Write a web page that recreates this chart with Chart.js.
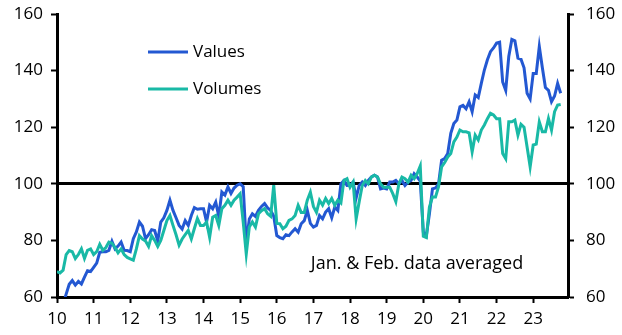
<!DOCTYPE html>
<html>
<head>
<meta charset="utf-8">
<script src="https://cdn.jsdelivr.net/npm/chart.js@4/dist/chart.umd.min.js"></script>
<style>
  html, body { margin: 0; padding: 0; background: #fff; }
  #wrap { width: 622px; height: 335px; }
</style>
</head>
<body>
<div id="wrap"><canvas id="chart"></canvas></div>
<script>
// monthly series, Jan 2010 to Oct 2023
const startYear = 2010;
const values = [
    52, 54, 57.5, 61, 64.5, 65.8, 64.2, 65.5, 64.6, 67, 69.3, 69,
    70.5, 72, 75.8, 76, 76, 76.5, 79.7, 77, 78, 79.4, 76.5, 76.4,
    76, 80.6, 83, 86.5, 85, 80.6, 82, 83.8, 83.5, 79.8, 86.5, 88,
    90.6, 94.2, 90.6, 88, 85.3, 84, 87, 85.3, 88.8, 91.6, 91, 91.2,
    91.2, 86.5, 92.4, 91.2, 93.5, 88.5, 97.1, 96, 98.9, 96.6, 98.5, 99.5,
    100, 99, 78.8, 87.6, 89.4, 88.5, 90.6, 92, 93, 91.5, 90.6, 88.5,
    81.7, 81, 80.6, 82, 81.7, 83, 84.1, 82.9, 85.9, 87, 90.6, 86,
    84.7, 85.3, 88.8, 87.6, 90, 91.2, 88, 91.8, 90.6, 100, 101.2, 99.4,
    99.5, 100.6, 95, 99.4, 100.6, 99.4, 101.2, 102.4, 103, 102.4, 98.2, 98.5,
    98.2, 100.6, 100.6, 101.2, 100, 101.2, 99.4, 100.6, 101.2, 103.6, 102.4, 101,
    83, 81.7, 89.4, 98.2, 98.5, 100, 108.3, 108.9, 110.7, 117.8, 121.3, 122.5,
    127.2, 127.7, 126.5, 129, 125.5, 131.4, 130.5, 135.5, 140.2, 143.8, 146.7, 148,
    149.7, 150, 136, 133, 145, 151, 150.5, 144.4, 144, 141, 132, 130,
    139, 139, 148.5, 141, 134, 133, 129, 131, 135.5, 132
];
const volumes = [
    69, 68.5, 69.5, 75, 76.4, 76, 73.6, 75, 77, 73.6, 76.5, 77,
    75, 76, 78.6, 76.5, 77.5, 79.4, 79, 77.5, 75.6, 77, 75, 74,
    73.5, 73, 77, 81.7, 80.5, 79.8, 77.9, 81.7, 80, 77.9, 80, 83.5,
    87, 88.8, 85.3, 82, 78.3, 80.5, 82, 83.5, 80.5, 84.2, 87.7, 85.3,
    85.3, 86.5, 81.1, 88.2, 88.8, 85.3, 91.2, 92.4, 94.2, 92.4, 94.2, 95.3,
    96.5, 86.5, 75.2, 84.7, 86.5, 84.7, 89.4, 90.5, 91.2, 89.4, 88.5, 99.5,
    86, 85.9, 84.1, 85, 87.1, 87.6, 88.8, 92.4, 89.9, 89.9, 94.2, 97,
    92, 89.9, 94.2, 92.5, 94.8, 93, 94.8, 92.4, 94.2, 93.2, 101.2, 101.8,
    98.8, 100.6, 87.6, 93.7, 99.4, 101.2, 100, 102.4, 103, 102.4, 100, 98.8,
    98.8, 98.8, 96.5, 93.7, 100, 102.4, 101.8, 100.6, 103, 101.8, 103.6, 106.3,
    81.5, 81, 91.8, 95.3, 95.3, 99, 106, 107.5, 109.5, 110.7, 114.8, 116.5,
    119, 118.4, 118.4, 118, 111.3, 117.2, 115.5, 119, 120.8, 123, 124.9, 124.3,
    123, 123, 110.7, 108.9, 121.9, 121.9, 122.5, 117.2, 121, 120, 113, 106,
    113.7, 114, 121.9, 118.4, 118.4, 123.1, 119, 125.5, 127.8, 128
];
const seriesNames = ['Values', 'Volumes'];
const seriesColors = ['#2358d2', '#19b9a6'];
const yTicks = [60, 80, 100, 120, 140, 160];
const note = 'Jan. & Feb. data averaged';

const toPoints = arr => arr.map((v, i) => ({ x: startYear + i / 12, y: v }));
const FONT = { family: '"Open Sans", Lato, sans-serif', size: 17 };
Chart.defaults.color = '#000';
Chart.defaults.font = FONT;

// legend drawn inside the plot, plus the footnote
const extras = {
    id: 'extras',
    afterDraw(chart) {
        const { ctx, chartArea, scales } = chart;
        ctx.save();
        ctx.font = '17px ' + FONT.family;
        ctx.textBaseline = 'middle';
        ctx.fillStyle = '#000';
        [52, 89].forEach((y, i) => {
            ctx.strokeStyle = seriesColors[i];
            ctx.lineWidth = 3;
            ctx.beginPath();
            ctx.moveTo(chartArea.left + 91, y);
            ctx.lineTo(chartArea.left + 131, y);
            ctx.stroke();
            ctx.fillText(seriesNames[i], chartArea.left + 136, y);
        });
        ctx.font = '18px ' + FONT.family;
        ctx.fillText(note, scales.x.getPixelForValue(2016.93), scales.y.getPixelForValue(71.8));
        ctx.restore();
    }
};

const yAxis = (pos, width) => ({
    type: 'linear',
    position: pos,
    min: 60,
    max: 160,
    afterBuildTicks: s => { s.ticks = yTicks.map(v => ({ value: v })); },
    afterFit: s => { s.width = width; s.paddingTop = 0; s.paddingBottom = 0; },
    ticks: { padding: pos === 'left' ? 8 : 12 },
    border: { display: true, color: '#000', width: 3 },
    grid: pos === 'left' ? {
        drawOnChartArea: true,
        color: c => (c.tick && c.tick.value === 100 ? '#000' : 'rgba(0,0,0,0)'),
        lineWidth: 3,
        tickColor: '#000',
        tickLength: 6,
        tickWidth: 2
    } : { drawOnChartArea: false, tickColor: '#000', tickLength: 6, tickWidth: 2 }
});

new Chart(document.getElementById('chart'), {
    type: 'line',
    data: {
        datasets: [
            { label: seriesNames[0], data: toPoints(values), borderColor: seriesColors[0], order: 2 },
            { label: seriesNames[1], data: toPoints(volumes), borderColor: seriesColors[1], order: 1 }
        ]
    },
    options: {
        responsive: true,
        maintainAspectRatio: false,
        animation: false,
        layout: { padding: { top: 14, left: 0, right: 0, bottom: 0 } },
        elements: {
            line: { borderWidth: 3, tension: 0, fill: false },
            point: { radius: 0 }
        },
        plugins: { legend: { display: false }, tooltip: { enabled: false } },
        scales: {
            x: {
                type: 'linear',
                min: 2010,
                max: 2023.95,
                afterFit: s => { s.height = 38; s.paddingLeft = 0; s.paddingRight = 0; },
                ticks: {
                    stepSize: 1,
                    includeBounds: false,
                    padding: 6,
                    maxRotation: 0,
                    callback: v => String(v).slice(2)
                },
                border: { display: true, color: '#000', width: 3 },
                grid: { drawOnChartArea: false, tickColor: '#000', tickLength: 6, tickWidth: 2 }
            },
            y: yAxis('left', 57),
            y2: yAxis('right', 54)
        }
    },
    plugins: [extras]
});
</script>
</body>
</html>
